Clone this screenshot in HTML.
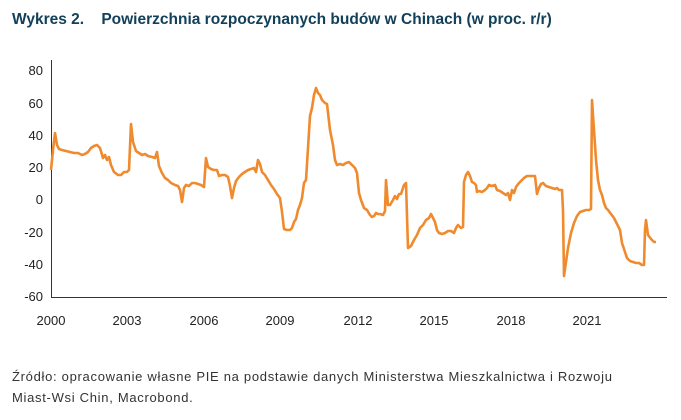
<!DOCTYPE html>
<html><head><meta charset="utf-8"><style>
body{margin:0;width:681px;height:420px;background:#fff;font-family:"Liberation Sans",sans-serif;position:relative;overflow:hidden}
.t{position:absolute;left:12px;top:11px;font-weight:bold;font-size:15.5px;color:#12405a;letter-spacing:0px;white-space:nowrap}
.f{position:absolute;left:12px;font-size:13px;color:#333;letter-spacing:0.7px;white-space:nowrap}
</style></head><body>
<div class="t">Wykres 2.&nbsp;&nbsp;&nbsp;&nbsp;Powierzchnia rozpoczynanych budów w Chinach (w proc. r/r)</div>
<svg width="681" height="420" style="position:absolute;left:0;top:0" font-family="Liberation Sans" font-size="13" fill="#222">
<line x1="51.5" y1="60" x2="51.5" y2="298" stroke="#333" stroke-width="1"/>
<line x1="51" y1="297.5" x2="667" y2="297.5" stroke="#333" stroke-width="1"/>
<g text-anchor="end">
<text x="43" y="75">80</text><text x="43" y="108">60</text><text x="43" y="140">40</text><text x="43" y="172">20</text><text x="43" y="204">0</text><text x="43" y="237">-20</text><text x="43" y="269">-40</text><text x="43" y="301">-60</text></g>
<g text-anchor="middle">
<text x="51" y="325">2000</text><text x="127" y="325">2003</text><text x="204" y="325">2006</text><text x="280" y="325">2009</text><text x="358" y="325">2012</text><text x="434" y="325">2015</text><text x="511" y="325">2018</text><text x="587" y="325">2021</text></g>
<polyline fill="none" stroke="#f08a2e" stroke-width="2.6" stroke-linejoin="round" points="51,170 53,150 55,133 57,145 59,149 62,150 66,151 70,152 74,153 78,153 82,155 85,154 88,152 91,148 94,146 97,145 100,148 103,158 105,155 107,160 109,157 111,165 114,172 118,175 121,175 124,172 127,172 129,170 131,124 133,142 136,151 139,153 142,155 145,154 148,156 152,157 155,158 157,152 159,166 162,173 165,178 168,180 171,183 175,185 178,186 180,190 182,202 184,188 186,185 189,186 192,183 195,183 198,184 201,185 204,187 206,158 208,167 211,169 214,170 217,170 219,176 222,175 225,175 228,177 230,186 232,198 234,188 236,181 239,177 242,174 245,172 248,170 251,169 254,168 256,172 258,160 260,164 262,172 265,175 268,180 271,185 274,189 277,194 280,198 282,212 284,229 287,230 290,230 292,228 294,222 296,219 298,210 300,205 302,198 304,183 306,180 308,148 310,116 312,108 314,95 316,88 318,93 320,95 322,100 325,103 327,104 330,130 333,145 335,160 337,165 340,164 343,165 346,163 349,162 352,165 355,168 357,173 359,193 361,200 364,208 367,210 370,215 372,217 374,216 376,213 378,214 380,214 383,215 385,211 386,180 388,205 390,205 393,200 395,196 397,199 399,194 401,194 404,185 406,183 408,248 411,246 414,240 417,235 420,228 423,225 426,220 429,218 431,214 433,218 435,222 437,230 439,233 442,234 445,233 448,231 451,231 454,233 456,228 458,225 461,228 463,227 464,182 466,175 468,172 470,176 472,182 474,183 476,185 477,192 479,191 482,192 485,190 487,188 489,185 492,186 495,185 497,190 500,191 503,193 506,195 508,193 510,200 512,190 514,193 516,187 519,183 522,180 524,178 527,176 530,176 533,176 535,176 537,194 539,188 541,184 543,183 546,186 549,187 552,188 555,189 557,188 559,190 562,190 563,210 564,276 566,262 568,248 571,233 574,223 577,216 580,212 583,211 586,210 589,210 591,209 592,100 594,130 596,160 598,180 600,190 602,195 604,203 606,208 608,210 611,214 614,218 617,224 620,230 622,243 625,252 627,258 630,261 633,262 636,263 639,263 642,265 644,265 645,230 646,220 648,235 651,239 654,242 656,242"/>
</svg>
<div class="f" style="top:369px">Źródło: opracowanie własne PIE na podstawie danych Ministerstwa Mieszkalnictwa i Rozwoju</div>
<div class="f" style="top:390px">Miast-Wsi Chin, Macrobond.</div>
</body></html>
